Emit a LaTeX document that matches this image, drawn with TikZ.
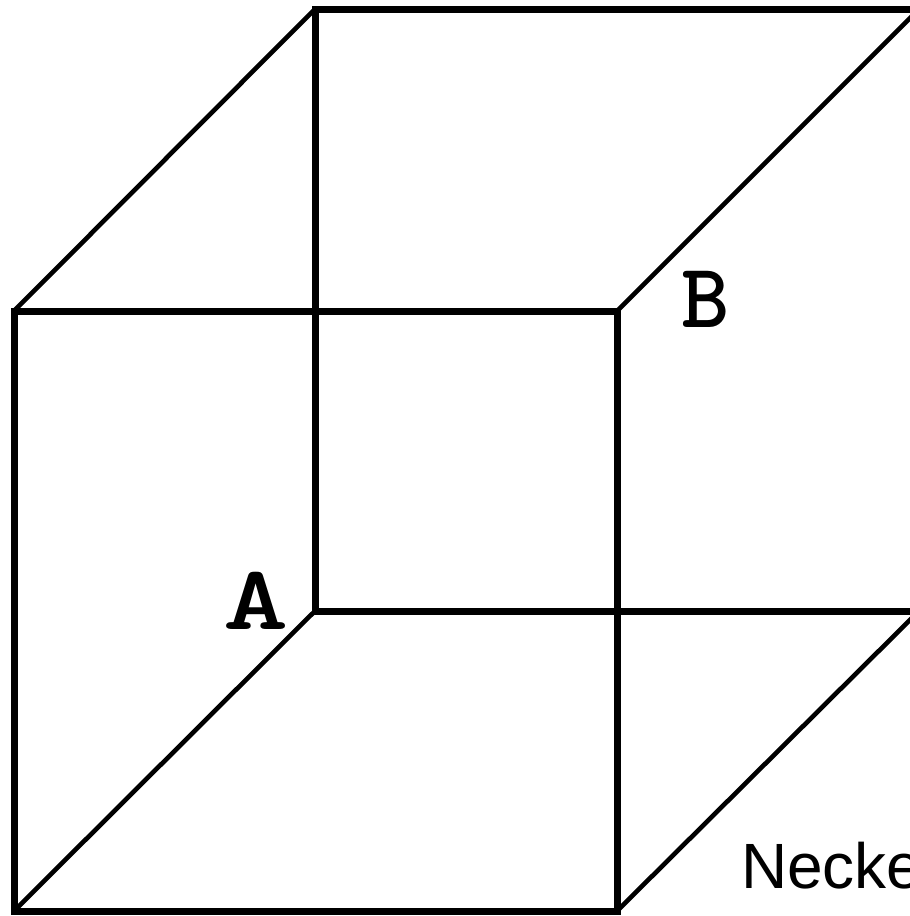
\documentclass[tikz,border=0pt]{standalone}
\usepackage{fontspec}
\setmainfont{Liberation Sans}
\tikzset{
  edgeline/.style={line width=7pt,line cap=square,line join=miter},
  diagline/.style={line width=4.6pt},
  letter/.style={inner sep=0pt,anchor=base,font=\ttfamily\bfseries\fontsize{92pt}{92pt}\selectfont},
  caption/.style={inner sep=0pt,anchor=base west,font=\fontsize{64pt}{64pt}\selectfont}
}
\begin{document}
\begin{tikzpicture}[x=1pt,y=-1pt]
\useasboundingbox (0,0) rectangle (910,916);
\clip (0,0) rectangle (910,916);
\coordinate (fTL) at (14,311);
\coordinate (fTR) at (617,311);
\coordinate (fBL) at (14,911);
\coordinate (fBR) at (617,911);
\coordinate (bTL) at (315,9);
\coordinate (bTR) at (919,9);
\coordinate (bBL) at (315,611);
\coordinate (bBR) at (919,611);
\draw[edgeline] (fTL) -- (fTR) -- (fBR) -- (fBL) -- cycle;
\draw[edgeline] (bTR) -- (bTL) -- (bBL) -- (bBR);
\draw[diagline] (fTL) -- (bTL);
\draw[diagline] (fTR) -- (bTR);
\draw[diagline] (fBL) -- (bBL);
\draw[diagline] (fBR) -- (bBR);
\node[letter] (labelA) at (256,629) {\scalebox{1.35}[1]{A}};
\node[letter] (labelB) at (706,327) {B};
\node[caption] (caption) at (741,888) {Necke};
\end{tikzpicture}
\end{document}
